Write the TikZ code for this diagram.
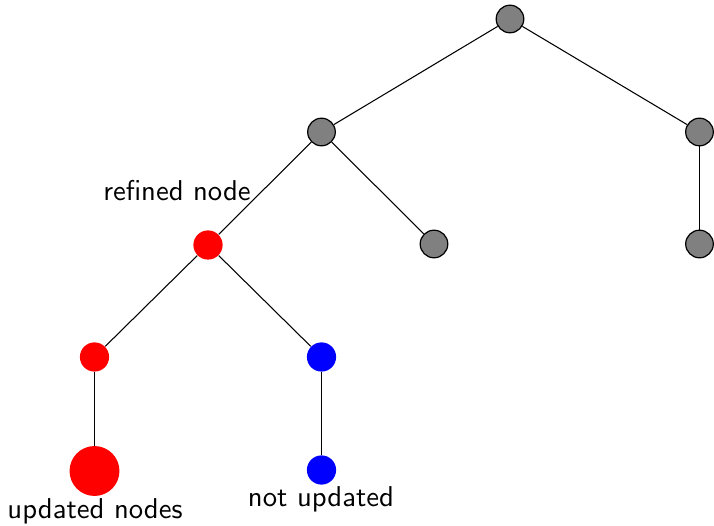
\documentclass[tikz,border=0pt]{standalone}
\begin{document}
\begin{tikzpicture}[x=0.3766pt,y=-0.3766pt,
  gnode/.style={circle,draw=black,fill=gray,line width=0.45pt,minimum size=10.4pt,inner sep=0pt},
  rnode/.style={circle,fill=red,minimum size=11pt,inner sep=0pt},
  bnode/.style={circle,fill=blue,minimum size=11pt,inner sep=0pt},
  bignode/.style={circle,fill=red,minimum size=18.8pt,inner sep=0pt},
  lbl/.style={font=\sffamily\fontsize{10.8}{13}\selectfont,inner sep=0pt},
  edge/.style={draw=black,line width=0.4pt}]
\useasboundingbox (0,0) rectangle (714,526);
\node[gnode] (r) at (510,19) {};
\node[gnode] (a) at (321.5,132) {};
\node[gnode] (b) at (699.5,132) {};
\node[rnode] (c) at (208,245) {};
\node[gnode] (d) at (434,244) {};
\node[gnode] (e) at (699.5,244) {};
\node[rnode] (f) at (94.5,357) {};
\node[bnode] (g) at (321.5,357) {};
\node[bignode] (h) at (94.5,471) {};
\node[bnode] (i) at (321.5,470) {};
\draw[edge] (r) -- (a);
\draw[edge] (r) -- (b);
\draw[edge] (a) -- (c);
\draw[edge] (a) -- (d);
\draw[edge] (b) -- (e);
\draw[edge] (c) -- (f);
\draw[edge] (c) -- (g);
\draw[edge] (f) -- (h);
\draw[edge] (g) -- (i);
\node[lbl] (l1) at (177,191) {refined node};
\node[lbl] (l2) at (95,511) {updated nodes};
\node[lbl] (l3) at (321,499) {not updated};
\end{tikzpicture}
\end{document}
